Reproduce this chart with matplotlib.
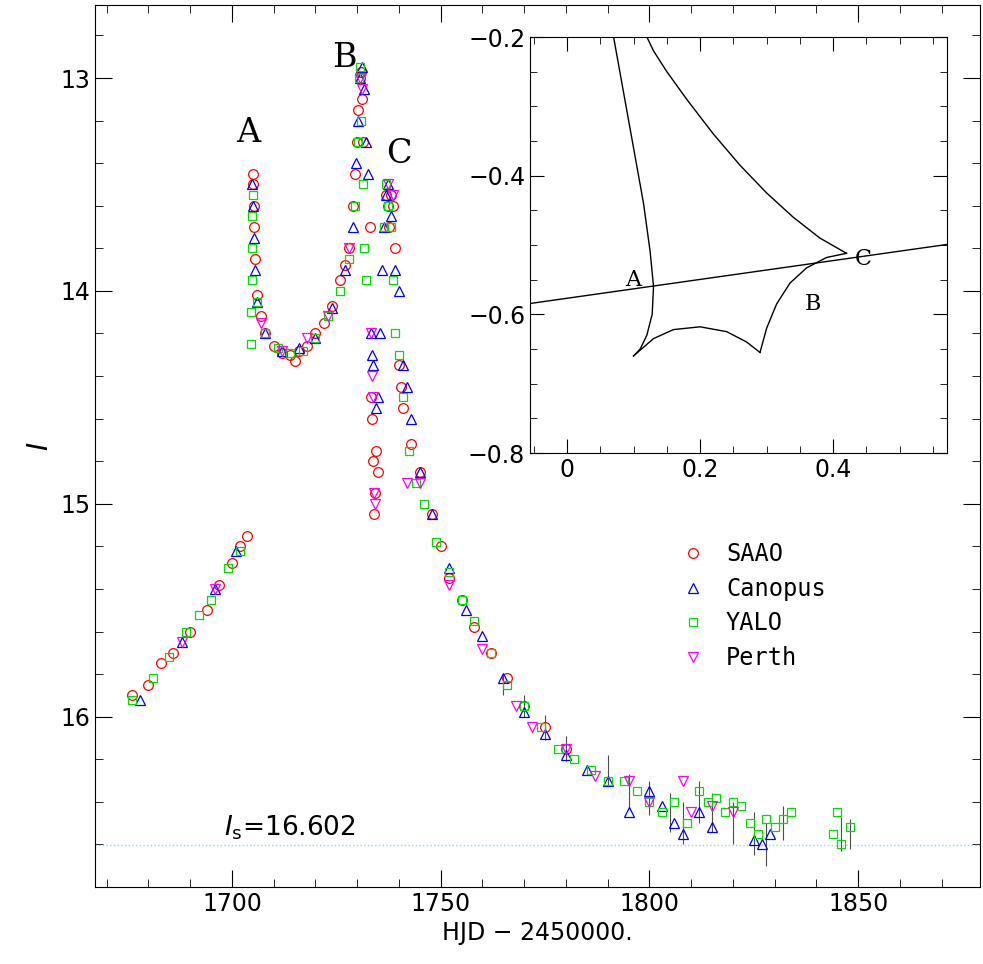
import matplotlib
matplotlib.use("Agg")
import matplotlib.pyplot as plt
from matplotlib.ticker import MultipleLocator

# ---- data ----
saao_t = [1676,1680,1683,1686,1690,1694,1697,1700,1702,1703.5,
          1705,1705.1,1705.2,1705.4,1705.6,1706,1707,1708,1710,1712,1714,1715,1716,1718,1720,1722,1724,1726,1727,1728,1729,1729.5,1730,1730.3,1730.6,1730.9,1731.2,1731.5,
          1733,1733.3,1733.6,1733.8,1734,1734.2,1734.5,1735,
          1737,1737.3,1737.6,1738,1738.5,1739,1740,1740.5,1741,1743,1745,1748,1750,1752,1755,1758,1762,1766,1770,1775,1780]
saao_m = [15.9,15.85,15.75,15.7,15.6,15.5,15.38,15.28,15.2,15.15,
          13.45,13.5,13.6,13.7,13.85,14.02,14.12,14.2,14.26,14.29,14.3,14.33,14.28,14.26,14.2,14.15,14.07,13.95,13.88,13.8,13.6,13.45,13.3,13.15,13.0,12.97,13.1,13.3,
          13.7,14.5,14.6,14.8,15.05,14.95,14.75,14.85,
          13.55,13.6,13.7,13.55,13.6,13.8,14.35,14.45,14.55,14.72,14.85,15.05,15.2,15.35,15.45,15.58,15.7,15.82,15.95,16.05,16.15]

can_t = [1678,1688,1696,1701,
         1704.8,1705,1705.2,1705.5,1706,1708,1712,1716,1720,1724,1727,1729,1729.8,1730.2,1730.7,1731.1,1731.6,1732,1732.5,
         1733.2,1733.5,1733.8,1734.5,1735,1735.5,1736,1736.5,1737,1737.5,1738,1739,1740,1741,1742,1743,1745,
         1748,1752,1756,1760,1765,1770,1775,1780,1785,1790,1795,1800,1803,1806,1808,1812,1815,1825,1827,1829]
can_m = [15.92,15.65,15.4,15.22,
         13.5,13.6,13.75,13.9,14.05,14.2,14.28,14.27,14.22,14.08,13.9,13.7,13.4,13.2,13.0,12.95,13.05,13.3,13.45,
         14.2,14.3,14.35,14.55,14.5,14.2,13.9,13.7,13.55,13.5,13.65,13.9,14.0,14.35,14.45,14.6,14.85,
         15.05,15.3,15.5,15.62,15.82,15.98,16.08,16.18,16.25,16.3,16.45,16.35,16.42,16.5,16.55,16.45,16.52,16.58,16.6,16.55]

yalo_t = [1676,1681,1685,1689,1692,1695,1699,1702,
          1704.5,1704.6,1704.7,1704.8,1704.9,1705.0,1706,1708,1711,1714,1717,1720,1723,1726,1728,1729.5,1730.2,1730.5,1730.8,1731.0,1731.3,1731.6,1732,
          1736.5,1737,1737.5,1738,1738.5,1739,1740,1741,1742.5,1744,1746,1749,1752,1755,1758,1762,1766,1770,1774,1778,1782,1786,1790,1794,1797,1800,1803,1806,1809,
          1812,1814,1816,1818,1820,1822,1824,1826,1828,1830,1832,1834,1844,1845,1846,1848]
yalo_m = [15.92,15.82,15.72,15.6,15.52,15.45,15.3,15.22,
          14.25,14.1,13.95,13.8,13.65,13.55,14.05,14.2,14.27,14.29,14.28,14.22,14.12,14.0,13.85,13.6,13.3,13.0,12.95,13.2,13.5,13.8,13.95,
          13.7,13.5,13.6,13.7,13.95,14.2,14.3,14.5,14.75,14.9,15.0,15.18,15.32,15.45,15.55,15.7,15.85,15.95,16.05,16.15,16.2,16.25,16.3,16.3,16.35,16.4,16.45,16.4,16.5,
          16.35,16.4,16.38,16.45,16.4,16.42,16.5,16.55,16.48,16.52,16.48,16.45,16.55,16.45,16.6,16.52]

per_t = [1688,1696,1707,1712,1718,1723,1728,1730.8,1731.2,1733.3,1733.5,1733.8,1734,1734.3,1737.5,1738.5,1742,1745,1752,1760,1768,1772,1780,1787,1795,1800,1808,1810,1815,1820]
per_m = [15.65,15.4,14.15,14.28,14.22,14.12,13.8,13.0,13.05,14.2,14.4,14.5,14.95,15.0,13.5,13.55,14.9,14.9,15.38,15.68,15.95,16.05,16.15,16.28,16.3,16.4,16.3,16.45,16.42,16.45]

t_err_t = [1765,1770,1775,1780,1790,1795,1800,1805,1808,1812,1815,1820,1825,1828,1832,1846,1848]
t_err_m = [15.85,15.95,16.05,16.15,16.25,16.35,16.38,16.45,16.5,16.4,16.45,16.5,16.55,16.6,16.5,16.55,16.55]
t_err_e = [0.05,0.05,0.06,0.06,0.07,0.08,0.08,0.09,0.1,0.1,0.09,0.1,0.1,0.1,0.08,0.08,0.07]

I_s = 16.602

caus1_x = [0.07,0.085,0.10,0.115,0.125,0.13,0.128,0.12,0.11,0.10]
caus1_y = [-0.2,-0.28,-0.36,-0.44,-0.51,-0.56,-0.6,-0.63,-0.65,-0.66]
caus2_x = [0.10,0.13,0.16,0.20,0.24,0.27,0.29]
caus2_y = [-0.66,-0.635,-0.622,-0.618,-0.625,-0.64,-0.655]
caus3_x = [0.29,0.30,0.315,0.335,0.36,0.39,0.42]
caus3_y = [-0.655,-0.62,-0.585,-0.555,-0.533,-0.518,-0.512]
caus4_x = [0.42,0.38,0.34,0.30,0.26,0.22,0.18,0.15,0.13,0.12]
caus4_y = [-0.512,-0.49,-0.46,-0.425,-0.385,-0.34,-0.29,-0.25,-0.22,-0.2]
traj_x = [-0.06, 0.58]
traj_y = [-0.585, -0.498]

# ---- figure ----
fig = plt.figure(figsize=(9.83, 9.64), dpi=100)
ax = fig.add_axes([95/983, 1-887/964, 885/983, 882/964])
ax.axhline(I_s, color="#7fe0f0", ls=":", lw=1)
ax.errorbar(t_err_t, t_err_m, yerr=t_err_e, fmt="none", ecolor="0.3", lw=0.8)
ms = 7
ax.plot(saao_t, saao_m, "o", mfc="none", mec="red", ms=ms, mew=0.9, label="SAAO")
ax.plot(can_t, can_m, "^", mfc="none", mec="blue", ms=ms, mew=0.9, label="Canopus")
ax.plot(yalo_t, yalo_m, "s", mfc="none", mec="#00dd00", ms=6, mew=0.9, label="YALO")
ax.plot(per_t, per_m, "v", mfc="none", mec="magenta", ms=ms, mew=0.9, label="Perth")
ax.set_xlim(1667.2, 1879.2)
ax.set_ylim(16.80, 12.657)
ax.xaxis.set_major_locator(MultipleLocator(50))
ax.xaxis.set_minor_locator(MultipleLocator(10))
ax.yaxis.set_major_locator(MultipleLocator(1))
ax.yaxis.set_minor_locator(MultipleLocator(0.2))
ax.tick_params(which="both", direction="in", top=True, right=True, labelsize=17)
ax.tick_params(which="major", length=12)
ax.tick_params(which="minor", length=6)
ax.set_xlabel("HJD − 2450000.", fontsize=17)
ax.set_ylabel("$I$", fontsize=20)
for txt, x, y in [("A", 1704, 13.3), ("B", 1727, 12.95), ("C", 1740, 13.4)]:
    ax.text(x, y, txt, fontsize=24, family="DejaVu Serif", ha="center")
ax.text(1698, 16.56, r"$I_{\rm s}$=16.602", fontsize=19)
leg = ax.legend(loc="upper left", bbox_to_anchor=(0.625, 0.415), frameon=False,
                handletextpad=0.4, labelspacing=0.45, prop={"family": "DejaVu Sans Mono", "size": 17})

ins = fig.add_axes([530/983, 1-453/964, 417/983, 416/964])
ins.plot(caus1_x, caus1_y, "k-", lw=1)
ins.plot(caus2_x, caus2_y, "k-", lw=1)
ins.plot(caus3_x, caus3_y, "k-", lw=1)
ins.plot(caus4_x, caus4_y, "k-", lw=1)
ins.plot(traj_x, traj_y, "k-", lw=1)
ins.set_xlim(-0.0556, 0.571)
ins.set_ylim(-0.8, -0.2)
ins.xaxis.set_minor_locator(MultipleLocator(0.05))
ins.yaxis.set_minor_locator(MultipleLocator(0.05))
ins.tick_params(which="both", direction="in", top=True, right=True, labelsize=17)
ins.tick_params(which="major", length=10)
ins.tick_params(which="minor", length=5)
ins.set_xticks([0, 0.2, 0.4]); ins.set_xticklabels(["0", "0.2", "0.4"])
ins.set_yticks([-0.8, -0.6, -0.4, -0.2]); ins.set_yticklabels(["−0.8", "−0.6", "−0.4", "−0.2"])
for txt, x, y in [("A", 0.1, -0.55), ("B", 0.37, -0.585), ("C", 0.445, -0.52)]:
    ins.text(x, y, txt, fontsize=16, family="DejaVu Serif", ha="center", va="center")

fig.savefig("out.png", dpi=100)
